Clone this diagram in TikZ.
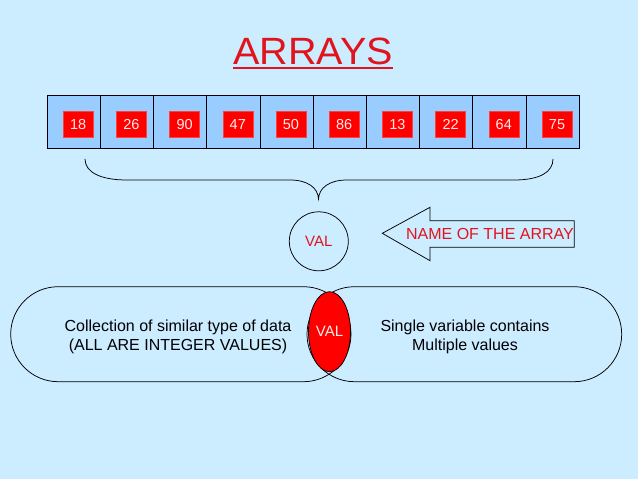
\documentclass[tikz,border=0pt]{standalone}
\usepackage{fontspec}
\setmainfont{Liberation Sans}
\usetikzlibrary{shapes.geometric}
\definecolor{bgblue}{RGB}{204,236,255}
\definecolor{cellblue}{RGB}{153,204,255}
\definecolor{arrred}{RGB}{225,20,30}
\tikzset{every picture/.style={line width=0.75pt}}
\tikzset{
	cellbox/.style={draw=black,fill=cellblue,minimum width=53.2pt,minimum height=53pt,inner sep=0pt,line width=0.9pt},
	numbox/.style={fill=red,draw=red!75!white,line width=0.5pt,minimum width=30pt,minimum height=25.6pt,inner sep=0pt,text=white!92!red,font=\fontsize{14.5}{16}\selectfont},
	redtxt/.style={text=arrred,inner sep=0pt,font=\fontsize{16}{18}\selectfont},
	bodytxt/.style={align=center,inner sep=0pt,font=\fontsize{16}{19}\selectfont},
}
\begin{document}
\begin{tikzpicture}[x=1pt,y=-1pt]
				\fill[bgblue] (0,0) rectangle (638,479); %背景
				\node[inner sep=0pt,text=arrred,font=\fontsize{38}{40}\selectfont,anchor=base,xscale=1.04] (title) at (313.3,64.3) {ARRAYS};
				\draw[arrred,line width=2pt] ([yshift=-4pt]title.base west)--([yshift=-4pt]title.base east); %下線
				\foreach \v [count=\i] in {18,26,90,47,50,86,13,22,64,75}{
					\node[cellbox] (cell\i) at ({47.3+53.2*(\i-0.5)},121.8) {};
					\node[numbox] (num\i) at ([xshift=4.3pt,yshift=-2.7pt]cell\i.center) {\v};
				}
				\draw (85,159) .. controls (85,172) and (100,180) .. (127,180)--(290,180) .. controls (308,180) and (318,188) .. (318.5,199)
					.. controls (319,188) and (329,180) .. (347,180)--(514,180) .. controls (540,180) and (553,172) .. (553,159); %括弧
				\node[circle,draw,minimum size=59pt,inner sep=0pt,text=arrred,font=\fontsize{15}{17}\selectfont] (val) at (318.8,241.3) {VAL};
				\draw (382.3,233.3)--(430,207.3)--(430,220.7)--(574.3,220.7)--(574.3,247.3)--(430,247.3)--(430,260.7)--cycle; %矢印
				\node[redtxt] (arrname) at (490,233.7) {NAME OF THE ARRAY};
				\draw[rounded corners=47.5pt] (10.7,286.7) rectangle (351,381.7);
				\draw[rounded corners=47.5pt] (307,286.7) rectangle (621.7,381.7);
				\node[ellipse,draw,fill=red,minimum width=42pt,minimum height=80pt,inner sep=0pt,text=white!92!red,font=\fontsize{15}{17}\selectfont] (mid) at (329.5,331.7) {VAL};
				\node[bodytxt] (lefttxt) at (178,337) {Collection of similar type of data\\(ALL ARE INTEGER VALUES)};
				\node[bodytxt] (righttxt) at (465,337) {Single variable contains\\Multiple values};
			\end{tikzpicture}
\end{document}
